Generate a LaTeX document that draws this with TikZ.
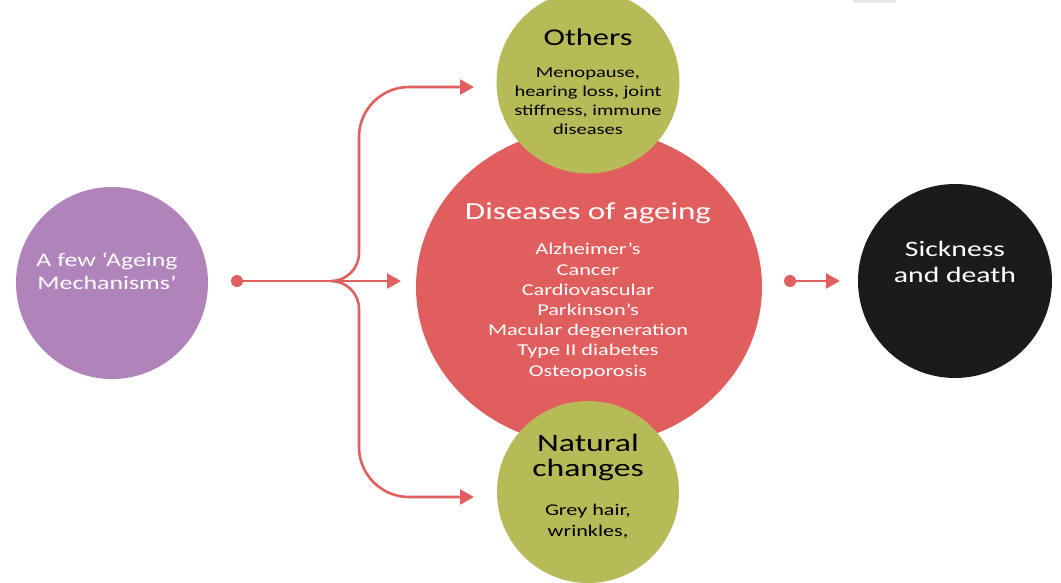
\documentclass[tikz,border=0pt]{standalone}
\usepackage{fontspec}
\setmainfont{Carlito}[FakeStretch=1.35]
\usetikzlibrary{arrows.meta,shapes.geometric}
\definecolor{cpurple}{RGB}{176,132,187}
\definecolor{cred}{RGB}{224,94,94}
\definecolor{colive}{RGB}{182,187,88}
\definecolor{cblack}{RGB}{27,27,27}
\definecolor{carrow}{RGB}{224,96,96}
\definecolor{cgrey}{RGB}{232,232,232}
\tikzset{
  blob/.style={circle, inner sep=0pt, draw=none},
  conn/.style={draw=carrow, line width=2.6pt, -{Triangle[length=14pt,width=15pt]}},
  dotnode/.style={circle, fill=carrow, inner sep=0pt, minimum size=12pt},
  wtxt/.style={text=white, align=center, inner sep=0pt},
  btxt/.style={text=black, align=center, inner sep=0pt},
}
\begin{document}
\begin{tikzpicture}[x=1pt,y=-1pt]
\useasboundingbox (0,0) rectangle (1061,582);
\fill[cgrey] (853,0) rectangle (896,3);
% shapes
\node[blob, fill=cpurple, minimum size=192pt] (mech) at (112,283) {};
\node[ellipse, fill=cred, inner sep=0pt, minimum width=346pt, minimum height=318pt] (dis) at (589,287) {};
\node[blob, fill=colive, minimum size=183pt] (oth) at (588,82) {};
\node[blob, fill=colive, minimum size=182pt] (nat) at (588,492) {};
\node[blob, fill=cblack, minimum size=194pt] (sick) at (955,281) {};
% texts
\node[wtxt, font=\fontsize{19.2}{23}\selectfont] (mecht) at (107,271) {A few ‘Ageing\\Mechanisms’};
\node[wtxt, font=\fontsize{24.5}{25}\selectfont] (dist) at (588,213) {Diseases of ageing};
\node[wtxt, font=\fontsize{16.5}{20.2}\selectfont, anchor=north] (disl) at (588,243) {Alzheimer’s\\Cancer\\Cardiovascular\\Parkinson’s\\Macular degeneration\\Type II diabetes\\Osteoporosis};
\node[btxt, font=\fontsize{24}{25}\selectfont] (otht) at (588,37) {Others};
\node[btxt, font=\fontsize{15.2}{18.8}\selectfont, anchor=north] (othl) at (588,68) {Menopause,\\hearing loss, joint\\stiffness, immune\\diseases};
\node[btxt, font=\fontsize{25}{25}\selectfont] (natt) at (588,457) {Natural\\changes};
\node[btxt, font=\fontsize{16.4}{21}\selectfont, anchor=north] (natl) at (588,504) {Grey hair,\\wrinkles,};
\node[wtxt, font=\fontsize{22}{26}\selectfont] (sickt) at (955,262) {Sickness\\and death};
% connectors
\node[dotnode] (d1) at (237,281) {};
\node[dotnode] (d2) at (790,281) {};
\coordinate (j) at (331,281);
\coordinate (t1) at (401,281);
\coordinate (t2) at (474,87);
\coordinate (t3) at (474,497);
\coordinate (t4) at (840,281);
\draw[conn] (d1.center) -- (t1);
\draw[conn] (j) .. controls (346.5,281) and (359,268.5) .. (359,253) -- (359,137) .. controls (359,109.4) and (381.4,87) .. (409,87) -- (t2);
\draw[conn] (j) .. controls (346.5,281) and (359,293.5) .. (359,309) -- (359,447) .. controls (359,474.6) and (381.4,497) .. (409,497) -- (t3);
\draw[conn] (d2.center) -- (t4);
\end{tikzpicture}
\end{document}
